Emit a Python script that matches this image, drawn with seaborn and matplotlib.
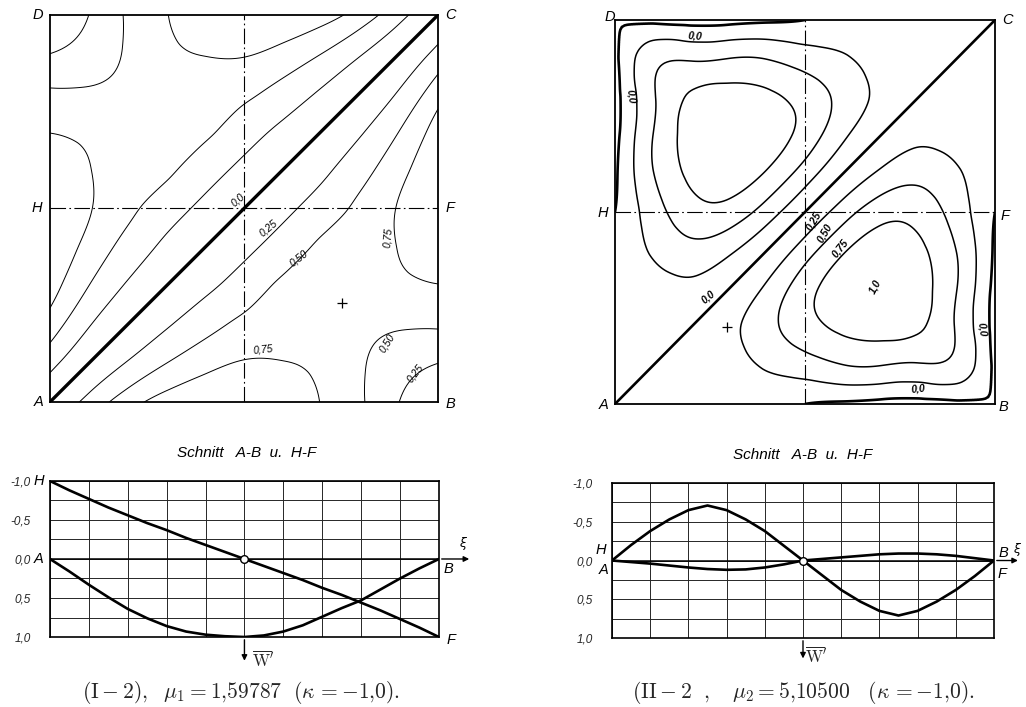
import numpy as np
import pandas as pd
import matplotlib
matplotlib.use("Agg")
import matplotlib.pyplot as plt
import matplotlib.tri as mtri
import seaborn as sns

sns.set_theme(style="white")
plt.rcParams.update({
    "font.family": ["DejaVu Sans"],
    "mathtext.fontset": "cm",
    "axes.edgecolor": "black",
    "axes.linewidth": 1.1,
    "contour.negative_linestyle": "solid",
})

# ---------------------------------------------------------------- data
# grid nodes of the plate (xi and eta from -1 to +1, A = (-1,-1), C = (1,1))
NODES = [-1.0, -0.8, -0.6, -0.4, -0.2, 0.0, 0.2, 0.4, 0.6, 0.8, 1.0]

# W' on the nodes right of the diagonal A-C, one row per eta (from A-B upward);
# each row starts at the first node right of the diagonal.
MODE1_ROWS = [
    [0.33, 0.64, 0.86, 0.97, 1.00, 0.93, 0.74, 0.53, 0.25, 0.00],
    [0.27, 0.50, 0.67, 0.77, 0.76, 0.70, 0.53, 0.36, 0.25],
    [0.22, 0.41, 0.56, 0.64, 0.65, 0.58, 0.53, 0.53],
    [0.19, 0.37, 0.54, 0.60, 0.65, 0.70, 0.74],
    [0.18, 0.37, 0.54, 0.64, 0.76, 0.93],
    [0.18, 0.37, 0.56, 0.77, 1.00],
    [0.19, 0.41, 0.67, 0.97],
    [0.22, 0.50, 0.86],
    [0.27, 0.64],
    [0.33],
]
MODE2_ROWS = [
    [0.04, 0.09, 0.12, 0.09, 0.00, -0.04, -0.08, -0.09, -0.06, 0.00],
    [0.08, 0.15, 0.28, 0.38, 0.49, 0.50, 0.47, 0.42, -0.06],
    [0.18, 0.42, 0.65, 0.80, 0.85, 0.78, 0.47, -0.09],
    [0.30, 0.65, 0.90, 1.00, 0.85, 0.50, -0.08],
    [0.38, 0.72, 0.90, 0.80, 0.49, -0.04],
    [0.38, 0.65, 0.65, 0.38, 0.00],
    [0.30, 0.42, 0.28, 0.09],
    [0.18, 0.15, 0.12],
    [0.08, 0.09],
    [0.04],
]

LEVELS = [-0.75, -0.5, -0.25, 0.25, 0.5, 0.75]
ZERO_LEVEL = [0.0]

# sections A-B and H-F (xi from 0 to 1)
XI_CUT = [k / 20 for k in range(21)]
AB_1 = [0.00, 0.16, 0.33, 0.49, 0.64, 0.76, 0.86, 0.93, 0.97, 0.99, 1.00,
        0.98, 0.93, 0.85, 0.74, 0.63, 0.53, 0.39, 0.25, 0.12, 0.00]
HF_1 = [-1.00, -0.88, -0.77, -0.66, -0.56, -0.46, -0.37, -0.27, -0.18, -0.09, 0.00,
        0.09, 0.18, 0.27, 0.37, 0.46, 0.56, 0.66, 0.77, 0.88, 1.00]
AB_2 = [0.00, 0.02, 0.04, 0.065, 0.09, 0.11, 0.12, 0.115, 0.09, 0.05, 0.00,
        -0.02, -0.04, -0.06, -0.08, -0.09, -0.09, -0.08, -0.06, -0.03, 0.00]
HF_2 = [0.00, -0.20, -0.38, -0.53, -0.65, -0.71, -0.65, -0.53, -0.38, -0.19, 0.00,
        0.19, 0.38, 0.53, 0.65, 0.71, 0.65, 0.53, 0.38, 0.20, 0.00]

XI_GRID = [k / 10 for k in range(11)]
ETA_GRID = [-1.0, -0.75, -0.5, -0.25, 0.0, 0.25, 0.5, 0.75, 1.0]
Y_TICKS = [-1.0, -0.5, 0.0, 0.5, 1.0]
Y_LABELS = ["-1,0", "-0,5", "0,0", "0,5", "1,0"]

CROSS_1 = (0.505, -0.488)
CROSS_2 = (-0.41, -0.60)

LAB = dict(family=["Liberation Sans", "DejaVu Sans"], style="italic", color="black")


def fmt(v):
    s = f"{v:.1f}" if v in (0.0, 1.0) else f"{v:.2f}"
    return s.replace(".", ",")


def field(rows):
    n = len(NODES)
    w = np.zeros((n, n))          # w[eta index, xi index]
    for j, row in enumerate(rows):
        for k, val in enumerate(row):
            i = j + 1 + k
            w[j, i] = val
            w[i, j] = -val        # antisymmetric about A-C
    return w


def refined(w):
    n = len(NODES)
    X, Y = np.meshgrid(NODES, NODES)
    tris = []
    for j in range(n - 1):
        for i in range(n - 1):
            a, b, c, d = j * n + i, j * n + i + 1, (j + 1) * n + i + 1, (j + 1) * n + i
            tris += [[a, b, c], [a, c, d]]
    tri = mtri.Triangulation(X.ravel(), Y.ravel(), tris)
    z = w.ravel()
    interp = mtri.CubicTriInterpolator(tri, z, kind="min_E")
    tri_f, z_f = mtri.UniformTriRefiner(tri).refine_field(z, triinterpolator=interp, subdiv=4)
    z_f = np.array(z_f)
    z_f[np.abs(z_f) < 1e-9] = 0.0
    return tri_f, z_f


def plate(ax, rows, lw_lines, lw_zero):
    tri_f, z_f = refined(field(rows))
    ax.tricontour(tri_f, z_f, levels=LEVELS, colors="black", linewidths=lw_lines,
                  linestyles="solid")
    ax.tricontour(tri_f, z_f, levels=ZERO_LEVEL, colors="black", linewidths=lw_zero,
                  linestyles="solid")
    ax.axvline(0, color="black", lw=0.8, ls=(0, (14, 3, 1.5, 3)))
    ax.axhline(0, color="black", lw=0.8, ls=(0, (14, 3, 1.5, 3)))
    ax.set_xlim(-1, 1)
    ax.set_ylim(-1, 1)
    ax.set_xticks([])
    ax.set_yticks([])
    for s in ax.spines.values():
        s.set_linewidth(1.3)


def corner_letters(ax, pos):
    for txt, (x, y) in pos.items():
        ax.text(x, y, txt, transform=ax.transAxes, fontsize=10.5, ha="center", va="center", **LAB)


def cut(ax, ab, hf, extra):
    ax.set_xlim(0, 1)
    for x in XI_GRID:
        ax.axvline(x, color="0.15", lw=0.7, zorder=1)
    for y in ETA_GRID:
        ax.axhline(y, color="0.15", lw=0.7, zorder=1)
    ax.axhline(0, color="black", lw=1.1, zorder=2)
    df = pd.DataFrame({"xi": XI_CUT, "A-B": ab, "H-F": hf}).melt(
        "xi", var_name="cut", value_name="w")
    sns.lineplot(data=df, x="xi", y="w", units="cut", estimator=None, color="black",
                 lw=1.9, legend=False, ax=ax, zorder=3)
    ax.plot(XI_CUT[10], hf[10], "o", mfc="white", mec="black", ms=5.5, mew=1.0, zorder=5)
    ax.set_ylim(1.0, -1.0)
    ax.set_xlabel("")
    ax.set_ylabel("")
    ax.set_xticks([])
    ax.set_yticks(Y_TICKS, labels=Y_LABELS)
    ax.tick_params(axis="y", length=0, pad=14)
    for t in ax.get_yticklabels():
        t.set_fontstyle("italic")
        t.set_fontsize(8.5)
        t.set_family(["Liberation Sans", "DejaVu Sans"])
    for s in ax.spines.values():
        s.set_linewidth(1.2)
    # xi axis arrow and W' arrow
    ax.annotate("", xy=(extra["xi_end"], 0), xycoords=ax.get_yaxis_transform(),
                xytext=(1.0, 0), textcoords=ax.get_yaxis_transform(),
                arrowprops=dict(arrowstyle="-|>", lw=1.0, color="black", mutation_scale=8))
    ax.annotate("", xy=(0.5, extra["w_end"]), xycoords=ax.get_xaxis_transform(),
                xytext=(0.5, 0.0), textcoords=ax.get_xaxis_transform(),
                arrowprops=dict(arrowstyle="-|>", lw=1.0, color="black", mutation_scale=8))
    ax.text(extra["w_txt"][0], extra["w_txt"][1], r"$\overline{\rm W}'$", transform=ax.transAxes,
            fontsize=12, ha="center", va="center")
    for txt, (x, y) in extra["letters"].items():
        ax.text(x, y, txt, transform=ax.get_yaxis_transform(), fontsize=10.5,
                ha="center", va="center", **LAB)
    ax.text(extra["xi_txt"][0], extra["xi_txt"][1], "ξ", transform=ax.get_yaxis_transform(),
            fontsize=9, ha="center", va="center", color="black", style="italic")


# ---------------------------------------------------------------- figure
fig = plt.figure(figsize=(10.26, 7.07), dpi=100)
fig.patch.set_facecolor("white")

# mode (I-2)
ax1 = fig.add_axes([0.0487, 0.4314, 0.3782, 0.5474])
plate(ax1, MODE1_ROWS, 0.7, 2.4)
ax1.plot(*CROSS_1, marker="+", ms=7, mew=0.9, color="black")
corner_letters(ax1, {"D": (-0.03, 1.0), "C": (1.032, 1.0), "H": (-0.033, 0.5),
                     "F": (1.032, 0.5), "A": (-0.03, 0.0), "B": (1.032, -0.005)})
lab1 = [(0.0, -0.03, 0.045, 42), (0.25, 0.125, -0.10, 40), (0.5, 0.28, -0.255, 38),
        (0.75, 0.742, -0.15, 85), (0.75, 0.10, -0.73, 6), (0.5, 0.735, -0.695, 58),
        (0.25, 0.88, -0.85, 52)]
for lev, x, y, r in lab1:
    ax1.text(x, y, fmt(lev), fontsize=7.5, rotation=r, ha="center", va="center", **LAB)

# mode (II-2)
ax2 = fig.add_axes([0.5994, 0.4286, 0.3704, 0.5431])
plate(ax2, MODE2_ROWS, 1.1, 1.9)
ax2.plot(*CROSS_2, marker="+", ms=7, mew=0.9, color="black")
corner_letters(ax2, {"D": (-0.013, 1.008), "C": (1.034, 1.0), "H": (-0.032, 0.497),
                     "F": (1.026, 0.49), "A": (-0.03, -0.003), "B": (1.022, -0.008)})
lab2 = [(0.0, -0.58, 0.915, -4), (0.0, -0.915, 0.60, -82), (0.25, 0.045, -0.045, 60),
        (0.5, 0.105, -0.11, 60), (0.75, 0.185, -0.19, 52), (1.0, 0.37, -0.39, 62),
        (0.0, -0.51, -0.44, 40), (0.0, 0.93, -0.61, -82), (0.0, 0.595, -0.92, 6)]
for lev, x, y, r in lab2:
    ax2.text(x, y, fmt(lev), fontsize=7.5, rotation=r, ha="center", va="center",
             fontweight="bold", **LAB)

# sections
ax3 = fig.add_axes([0.0487, 0.0990, 0.3791, 0.2207])
cut(ax3, AB_1, HF_1, {
    "xi_end": 1.085, "w_end": -0.17, "w_txt": (0.548, -0.145), "xi_txt": (1.06, -0.2),
    "letters": {"H": (-0.028, -1.0), "A": (-0.028, 0.0), "B": (1.025, 0.13), "F": (1.03, 1.04)}})
ax4 = fig.add_axes([0.5965, 0.0976, 0.3723, 0.2192])
cut(ax4, AB_2, HF_2, {
    "xi_end": 1.07, "w_end": -0.15, "w_txt": (0.535, -0.12), "xi_txt": (1.058, -0.14),
    "letters": {"H": (-0.028, -0.13), "A": (-0.022, 0.12), "B": (1.025, -0.1), "F": (1.022, 0.17)}})

fig.text(0.2407, 0.3593, "Schnitt   A-B  u.  H-F", fontsize=11, ha="center", va="center", **LAB)
fig.text(0.7827, 0.3565, "Schnitt   A-B  u.  H-F", fontsize=11, ha="center", va="center", **LAB)

fig.text(0.235, 0.021, r"$(\mathrm{I}-2),\ \ \mu_1 = 1{,}59787\ \ (\kappa\, = -1{,}0).$",
         fontsize=15.5, ha="center", va="center")
fig.text(0.7827, 0.021,
         r"$(\mathrm{II}-2\ \ ,\ \ \ \mu_2 = 5{,}10500\ \ \ (\kappa\, = -1{,}0).$",
         fontsize=15.5, ha="center", va="center")

fig.savefig("out.png", dpi=100, facecolor="white")
